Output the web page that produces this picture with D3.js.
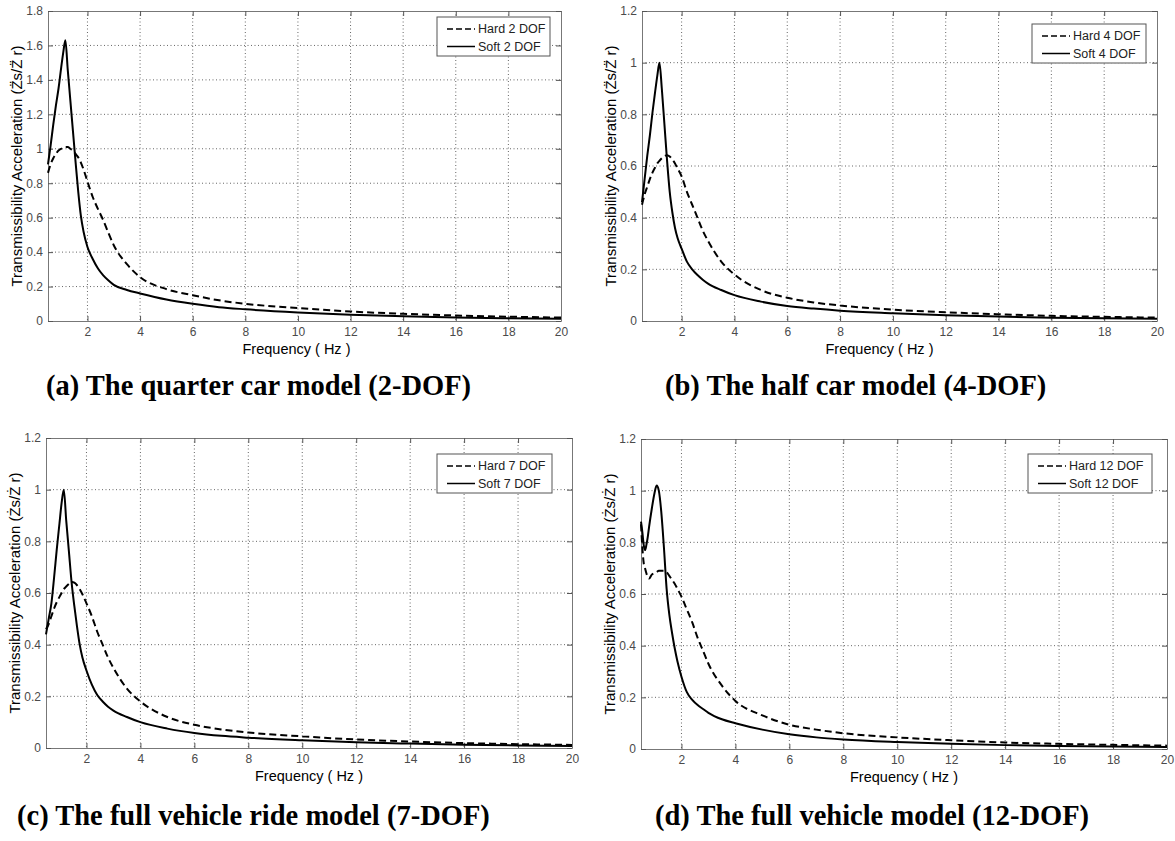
<!DOCTYPE html>
<html>
<head>
<meta charset="utf-8">
<script src="https://cdn.jsdelivr.net/npm/d3@7/dist/d3.min.js"></script>
<style>
body { margin: 0; background: #fff; }
svg { display: block; }
.tick text { font-family: "Liberation Sans", Arial, sans-serif; font-size: 12px; fill: #4a4a4a; }
</style>
</head>
<body>
<svg id="chart" width="1175" height="841"></svg>
<script>
// frequency grid (Hz) used by panels a, b, c
var freqHz = [0.5,0.6,0.7,0.8,0.9,1.0,1.08,1.16,1.25,1.35,1.45,1.55,1.65,1.75,1.85,
	2.0,2.2,2.4,2.6,2.8,3.0,3.5,4,5,6,7,8,10,12,14,16,18,20];
// finer low end for the 12 DOF panel (wiggles below 1 Hz)
var freq12 = [0.5,0.55,0.6,0.65,0.7,0.75,0.8,0.9,1.0,1.08,1.16,1.25,1.35,1.45,1.55,1.65,1.75,1.85,
	2.0,2.2,2.4,2.6,2.8,3.0,3.5,4,5,6,7,8,10,12,14,16,18,20];

var hard2 = [0.86,0.91,0.945,0.97,0.99,1.0,1.005,1.01,1.01,1.0,0.99,0.97,0.95,0.92,0.88,
	0.81,0.72,0.65,0.585,0.51,0.44,0.33,0.255,0.185,0.15,0.12,0.10,0.075,0.055,0.042,0.032,0.025,0.02];
var soft2 = [0.91,1.02,1.14,1.25,1.35,1.47,1.56,1.63,1.46,1.28,1.10,0.92,0.75,0.61,0.52,
	0.43,0.36,0.305,0.265,0.235,0.21,0.18,0.16,0.125,0.10,0.08,0.068,0.05,0.037,0.028,0.021,0.016,0.013];

var hard4 = [0.45,0.49,0.52,0.55,0.575,0.595,0.61,0.62,0.63,0.638,0.642,0.637,0.625,0.61,0.59,
	0.56,0.50,0.45,0.40,0.35,0.31,0.23,0.18,0.12,0.09,0.072,0.06,0.044,0.034,0.026,0.02,0.016,0.013];
var soft4 = [0.46,0.55,0.64,0.72,0.81,0.89,0.95,1.0,0.90,0.76,0.62,0.50,0.42,0.36,0.32,
	0.28,0.23,0.20,0.178,0.16,0.145,0.12,0.10,0.075,0.058,0.048,0.04,0.03,0.022,0.017,0.013,0.011,0.009];

var hard7 = [0.46,0.48,0.51,0.54,0.565,0.585,0.60,0.615,0.625,0.635,0.643,0.64,0.63,0.615,0.595,
	0.56,0.51,0.45,0.40,0.35,0.31,0.23,0.18,0.12,0.09,0.072,0.06,0.045,0.033,0.025,0.019,0.015,0.012];
var soft7 = [0.44,0.50,0.56,0.66,0.77,0.87,0.95,1.0,0.88,0.76,0.64,0.55,0.47,0.40,0.35,
	0.30,0.245,0.205,0.18,0.16,0.145,0.12,0.10,0.075,0.058,0.047,0.04,0.03,0.022,0.017,0.013,0.01,0.008];

var hard12 = [0.87,0.78,0.72,0.70,0.68,0.665,0.66,0.675,0.68,0.685,0.69,0.69,0.69,0.685,0.67,0.655,0.64,0.62,
	0.59,0.54,0.49,0.43,0.38,0.33,0.245,0.186,0.13,0.094,0.075,0.061,0.045,0.034,0.025,0.02,0.016,0.013];
var soft12 = [0.88,0.84,0.79,0.77,0.79,0.82,0.86,0.93,0.99,1.02,1.0,0.92,0.78,0.62,0.52,0.45,0.39,0.34,
	0.28,0.22,0.19,0.17,0.155,0.14,0.115,0.10,0.075,0.057,0.045,0.037,0.027,0.02,0.015,0.012,0.01,0.008];

var xTicks = [2,4,6,8,10,12,14,16,18,20];
var yTicks18 = [0,0.2,0.4,0.6,0.8,1,1.2,1.4,1.6,1.8];
var yTicks12 = [0,0.2,0.4,0.6,0.8,1,1.2];

var legendNames = [["Hard 2 DOF","Soft 2 DOF"],["Hard 4 DOF","Soft 4 DOF"],
	["Hard 7 DOF","Soft 7 DOF"],["Hard 12 DOF","Soft 12 DOF"]];
var captions = ["(a) The quarter car model (2-DOF)","(b) The half car model (4-DOF)",
	"(c) The full vehicle ride model (7-DOF)","(d) The full vehicle model (12-DOF)"];

var svg = d3.select("#chart");
var fmt = d3.format("~g");
var font = "'Liberation Sans', Arial, sans-serif";

/**
 * Panel: one MATLAB-style axes box with two curves + legend + caption
 */
function Panel(s) {
	this.box = s.box;          // [left, top, right, bottom]
	this.yTicks = s.yTicks;
	this.freq = s.freq;
	this.hard = s.hard;
	this.soft = s.soft;
	this.names = s.names;
	this.legend = s.legend;    // [x, y, w]
	this.caption = s.caption;
	this.capPos = s.capPos;
	this.xlabShift = s.xlabShift || 0;
	this.mark = s.mark;        // combining accent above Z
}

Panel.prototype.draw = function() {
	var b = this.box,
		yMax = this.yTicks[this.yTicks.length - 1];
	var x = d3.scaleLinear().domain([0.5, 20]).range([b[0], b[2]]);
	var y = d3.scaleLinear().domain([0, yMax]).range([b[3], b[1]]);
	var g = svg.append("g");

	// dotted grid
	g.selectAll(".vg").data(xTicks.slice(0, -1)).enter().append("line")
		.attr("x1", d => x(d)).attr("x2", d => x(d))
		.attr("y1", b[1]).attr("y2", b[3])
		.attr("stroke", "#666").attr("stroke-dasharray", "1,2.5");
	g.selectAll(".hg").data(this.yTicks.slice(1, -1)).enter().append("line")
		.attr("x1", b[0]).attr("x2", b[2])
		.attr("y1", d => y(d)).attr("y2", d => y(d))
		.attr("stroke", "#666").attr("stroke-dasharray", "1,2.5");

	// axes on all four sides, ticks pointing inward
	var axes = [
		[d3.axisBottom(x).tickValues(xTicks).tickPadding(6), "translate(0," + b[3] + ")", true],
		[d3.axisTop(x).tickValues(xTicks), "translate(0," + b[1] + ")", false],
		[d3.axisLeft(y).tickValues(this.yTicks).tickPadding(5), "translate(" + b[0] + ",0)", true],
		[d3.axisRight(y).tickValues(this.yTicks), "translate(" + b[2] + ",0)", false]
	];
	axes.forEach(function(a) {
		a[0].tickSizeInner(-5).tickSizeOuter(0).tickFormat(a[2] ? fmt : "");
		var ax = g.append("g").attr("transform", a[1]).call(a[0]);
		ax.select(".domain").attr("stroke", "#777");
		ax.selectAll(".tick line").attr("stroke", "#555");
	});

	// curves
	var pts = (vals, f) => f.map((d, i) => [d, vals[i]]);
	var line = d3.line().x(d => x(d[0])).y(d => y(d[1])).curve(d3.curveMonotoneX);
	g.append("path").datum(pts(this.hard, this.freq)).attr("d", line)
		.attr("fill", "none").attr("stroke", "#000").attr("stroke-width", 2)
		.attr("stroke-dasharray", "7,4");
	g.append("path").datum(pts(this.soft, this.freq)).attr("d", line)
		.attr("fill", "none").attr("stroke", "#000").attr("stroke-width", 2);

	// axis titles
	g.append("text").attr("x", (b[0] + b[2]) / 2 + this.xlabShift).attr("y", b[3] + 33)
		.attr("text-anchor", "middle").style("font-family", font).style("font-size", "14.5px")
		.text("Frequency ( Hz )");
	var cy = (b[1] + b[3]) / 2, cx = b[0] - 31;
	g.append("text").attr("transform", "translate(" + cx + "," + cy + ") rotate(-90)")
		.attr("text-anchor", "middle").attr("dy", "0.35em")
		.style("font-family", font).style("font-size", "15px")
		.text("Transmissibility Acceleration (Z" + this.mark + "s/Z" + this.mark + " r)");

	// legend
	var L = this.legend;
	var lg = g.append("g").attr("transform", "translate(" + L[0] + "," + L[1] + ")");
	lg.append("rect").attr("width", L[2]).attr("height", 39)
		.attr("fill", "#fff").attr("stroke", "#555");
	var rows = lg.selectAll(".row").data(this.names).enter().append("g")
		.attr("transform", (d, i) => "translate(0," + (12 + i * 17.5) + ")");
	rows.append("line").attr("x1", 10).attr("x2", 38)
		.attr("stroke", "#000").attr("stroke-width", 1.5)
		.attr("stroke-dasharray", (d, i) => i === 0 ? "6,3" : null);
	rows.append("text").attr("x", 41).attr("dy", "0.35em")
		.style("font-family", font).style("font-size", "12.5px").style("fill", "#222")
		.text(d => d);

	// caption
	svg.append("text").attr("x", this.capPos[0]).attr("y", this.capPos[1])
		.style("font-family", "'Liberation Serif', 'Times New Roman', serif")
		.style("font-size", "28.5px").style("font-weight", "bold")
		.text(this.caption);
};

var dd = "\u0308", d1 = "\u0307";
var panels = [
	new Panel({box: [48, 11, 561, 321], yTicks: yTicks18, freq: freqHz, hard: hard2, soft: soft2,
		names: legendNames[0], legend: [437, 17, 113], caption: captions[0], capPos: [46, 395],
		xlabShift: -8, mark: dd}),
	new Panel({box: [642, 11, 1157, 321], yTicks: yTicks12, freq: freqHz, hard: hard4, soft: soft4,
		names: legendNames[1], legend: [1032, 24, 114], caption: captions[1], capPos: [665, 395],
		xlabShift: -20, mark: dd}),
	new Panel({box: [46, 438, 572, 748], yTicks: yTicks12, freq: freqHz, hard: hard7, soft: soft7,
		names: legendNames[2], legend: [437, 454, 115], caption: captions[2], capPos: [17, 825], mark: d1}),
	new Panel({box: [641, 439, 1167, 749], yTicks: yTicks12, freq: freq12, hard: hard12, soft: soft12,
		names: legendNames[3], legend: [1028, 454, 124], caption: captions[3], capPos: [655, 825], mark: d1})
];
panels.forEach(p => p.draw());
</script>
</body>
</html>
